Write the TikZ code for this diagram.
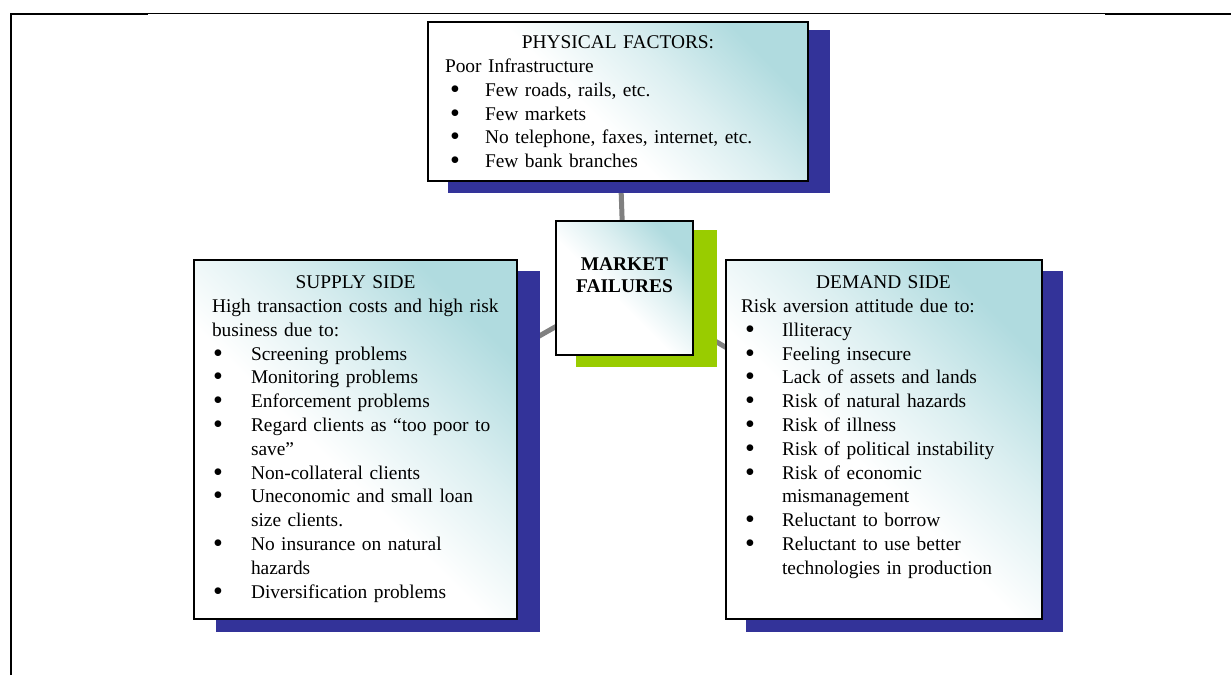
\documentclass[tikz,border=0pt]{standalone}
\usepackage{fontspec}
\usepackage{graphicx}
\setmainfont{Liberation Serif}
\definecolor{navyshadow}{RGB}{51,51,153}
\definecolor{greenshadow}{RGB}{153,204,0}
\definecolor{tealtop}{RGB}{176,219,223}
\definecolor{conngray}{RGB}{128,128,128}
\pgfdeclareverticalshading{paneltint}{100bp}{color(0bp)=(white); color(25bp)=(white); color(45bp)=(white); color(60bp)=(white!55!tealtop); color(75bp)=(tealtop); color(100bp)=(tealtop)}
\newlength{\bind}
\newlength{\boff}
\newcommand{\bmark}{\smash{\raisebox{-2pt}{\scalebox{1.45}{\textbullet}}}}
\newcommand{\bitem}[1]{\par\hangindent=\bind\hangafter=1\noindent\makebox[\bind][l]{\hspace{\boff}\bmark}#1}
\newcommand{\boxhead}[1]{\noindent\makebox[\linewidth][c]{\rule{0pt}{15pt}#1}}
\pgfdeclarelayer{back}
\pgfsetlayers{back,main}
\begin{document}
\begin{tikzpicture}[x=1pt,y=-1pt,
  panel/.style={draw=black, line width=2pt, inner sep=0pt, outer sep=0pt, anchor=north west,
    shading=paneltint, shading angle=-45},
  bodytext/.style={anchor=north west, inner sep=0pt, outer sep=0pt,
    font=\fontsize{19.4}{23.8}\selectfont},
  conn/.style={draw=conngray, line width=5pt},
  rule/.style={draw=black}
]
\useasboundingbox (0,0) rectangle (1231,675);

% page rules
\draw[rule, line width=2pt] (11,675) -- (11,14) -- (148,14);
\draw[rule, line width=1.3pt] (147,13.5) -- (1106,13.5);
\draw[rule, line width=2pt] (1105,14.3) -- (1231,14.3);

% shadows
\fill[navyshadow] (448,30) rectangle (830,193);
\fill[greenshadow] (576,230) rectangle (717,367);
\fill[navyshadow] (216,271) rectangle (540,632);
\fill[navyshadow] (746,271) rectangle (1063,632);

% boxes
\node[panel, minimum width=380pt, minimum height=159pt] (phys) at (428,22) {};
\node[panel, minimum width=137pt, minimum height=134pt] (mf) at (556,221) {};
\node[panel, minimum width=323pt, minimum height=359pt] (supply) at (194,260) {};
\node[panel, minimum width=316pt, minimum height=359pt] (demand) at (726,260) {};

% connectors
\begin{pgfonlayer}{back}
\draw[conn] (phys) -- (mf);
\draw[conn] (supply) -- (mf);
\draw[conn] (mf) -- (demand);
\end{pgfonlayer}

% texts
\node[bodytext, text width=346pt] (physT) at (445,33.6) {%
\setlength{\bind}{40pt}\setlength{\boff}{5pt}\raggedright
\boxhead{PHYSICAL FACTORS:}\par
\noindent Poor Infrastructure
\bitem{Few roads, rails, etc.}
\bitem{Few markets}
\bitem{No telephone, faxes, internet, etc.}
\bitem{Few bank branches}\par};

\node[font=\fontsize{19.4}{22}\selectfont\bfseries, align=center, inner sep=0pt] (mfT) at (624.5,275) {MARKET\\FAILURES};

\node[bodytext, text width=300pt] (supplyT) at (212,273.6) {%
\setlength{\bind}{39pt}\setlength{\boff}{1pt}\raggedright
\makebox[287pt][c]{\rule{0pt}{15pt}SUPPLY SIDE}\par
\noindent High transaction costs and high risk\newline business due to:
\bitem{Screening problems}
\bitem{Monitoring problems}
\bitem{Enforcement problems}
\bitem{Regard clients as “too poor to\newline save”}
\bitem{Non-collateral clients}
\bitem{Uneconomic and small loan\newline size clients.}
\bitem{No insurance on natural\newline hazards}
\bitem{Diversification problems}\par};

\node[bodytext, text width=285pt] (demandT) at (741,273.6) {%
\setlength{\bind}{41pt}\setlength{\boff}{4pt}\raggedright
\boxhead{DEMAND SIDE}\par
\noindent Risk aversion attitude due to:
\bitem{Illiteracy}
\bitem{Feeling insecure}
\bitem{Lack of assets and lands}
\bitem{Risk of natural hazards}
\bitem{Risk of illness}
\bitem{Risk of political instability}
\bitem{Risk of economic\newline mismanagement}
\bitem{Reluctant to borrow}
\bitem{Reluctant to use better\newline technologies in production}\par};

\end{tikzpicture}
\end{document}
